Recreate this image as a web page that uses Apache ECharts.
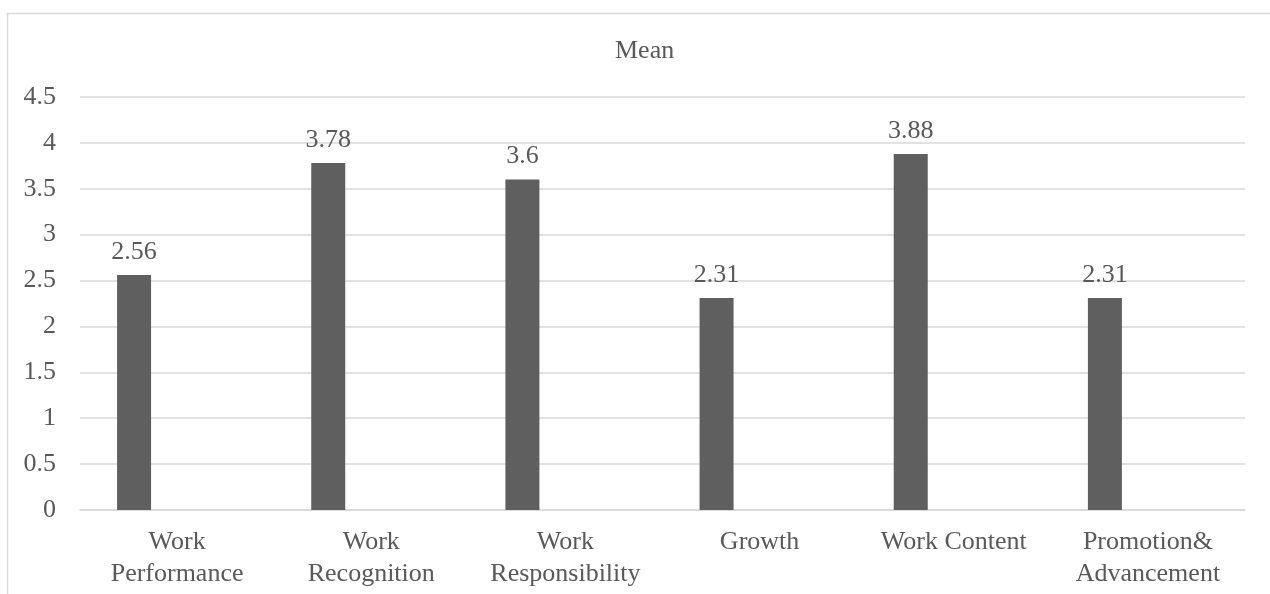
<!DOCTYPE html>
<html>
<head>
<meta charset="utf-8">
<script src="https://cdn.jsdelivr.net/npm/echarts@6/dist/echarts.min.js"></script>
<style>
html,body{margin:0;padding:0;background:#fff;}
#chart{width:1270px;height:594px;}
</style>
</head>
<body>
<div id="chart"></div>
<script>
const categories = ['Work\nPerformance', 'Work\nRecognition', 'Work\nResponsibility', 'Growth', 'Work Content', 'Promotion&\nAdvancement'];
const meanValues = [2.56, 3.78, 3.6, 2.31, 3.88, 2.31];
const placeholderValues = [null, null, null, null, null, null];
const yTicks = { min: 0, max: 4.5, interval: 0.5 };

const font = 'Liberation Serif, Times New Roman, serif';
const textColor = '#595959';
const chart = echarts.init(document.getElementById('chart'), null, { renderer: 'canvas' });
chart.setOption({
  animation: false,
  backgroundColor: '#ffffff',
  title: {
    text: 'Mean',
    left: 610,
    top: 33,
    textStyle: { fontFamily: font, fontSize: 26, fontWeight: 'normal', color: textColor }
  },
  graphic: [{
    type: 'rect',
    shape: { x: 7.5, y: 13.5, width: 1400, height: 700 },
    style: { fill: 'none', stroke: '#d9d9d9', lineWidth: 1.5 },
    silent: true
  }],
  grid: { left: 80, right: 25, top: 97, bottom: 84, containLabel: false },
  xAxis: {
    type: 'category',
    data: categories,
    axisLine: { lineStyle: { color: '#d9d9d9', width: 1.5 } },
    axisTick: { show: false },
    axisLabel: {
      interval: 0, margin: 16, color: textColor,
      fontFamily: font, fontSize: 26, lineHeight: 32
    }
  },
  yAxis: {
    type: 'value',
    min: yTicks.min, max: yTicks.max, interval: yTicks.interval,
    axisLine: { show: false },
    axisTick: { show: false },
    axisLabel: { margin: 24, color: textColor, fontFamily: font, fontSize: 26 },
    splitLine: { lineStyle: { color: '#d9d9d9', width: 1.5 } }
  },
  series: [{
    type: 'bar',
    data: meanValues,
    barWidth: 34,
    barGap: '153%',
    itemStyle: { color: '#5f5f5f' },
    label: {
      show: true, position: 'top', distance: 10,
      color: textColor, fontFamily: font, fontSize: 26
    }
  }, {
    type: 'bar',
    data: placeholderValues,
    barWidth: 34,
    itemStyle: { color: '#5f5f5f' }
  }]
});
</script>
</body>
</html>
